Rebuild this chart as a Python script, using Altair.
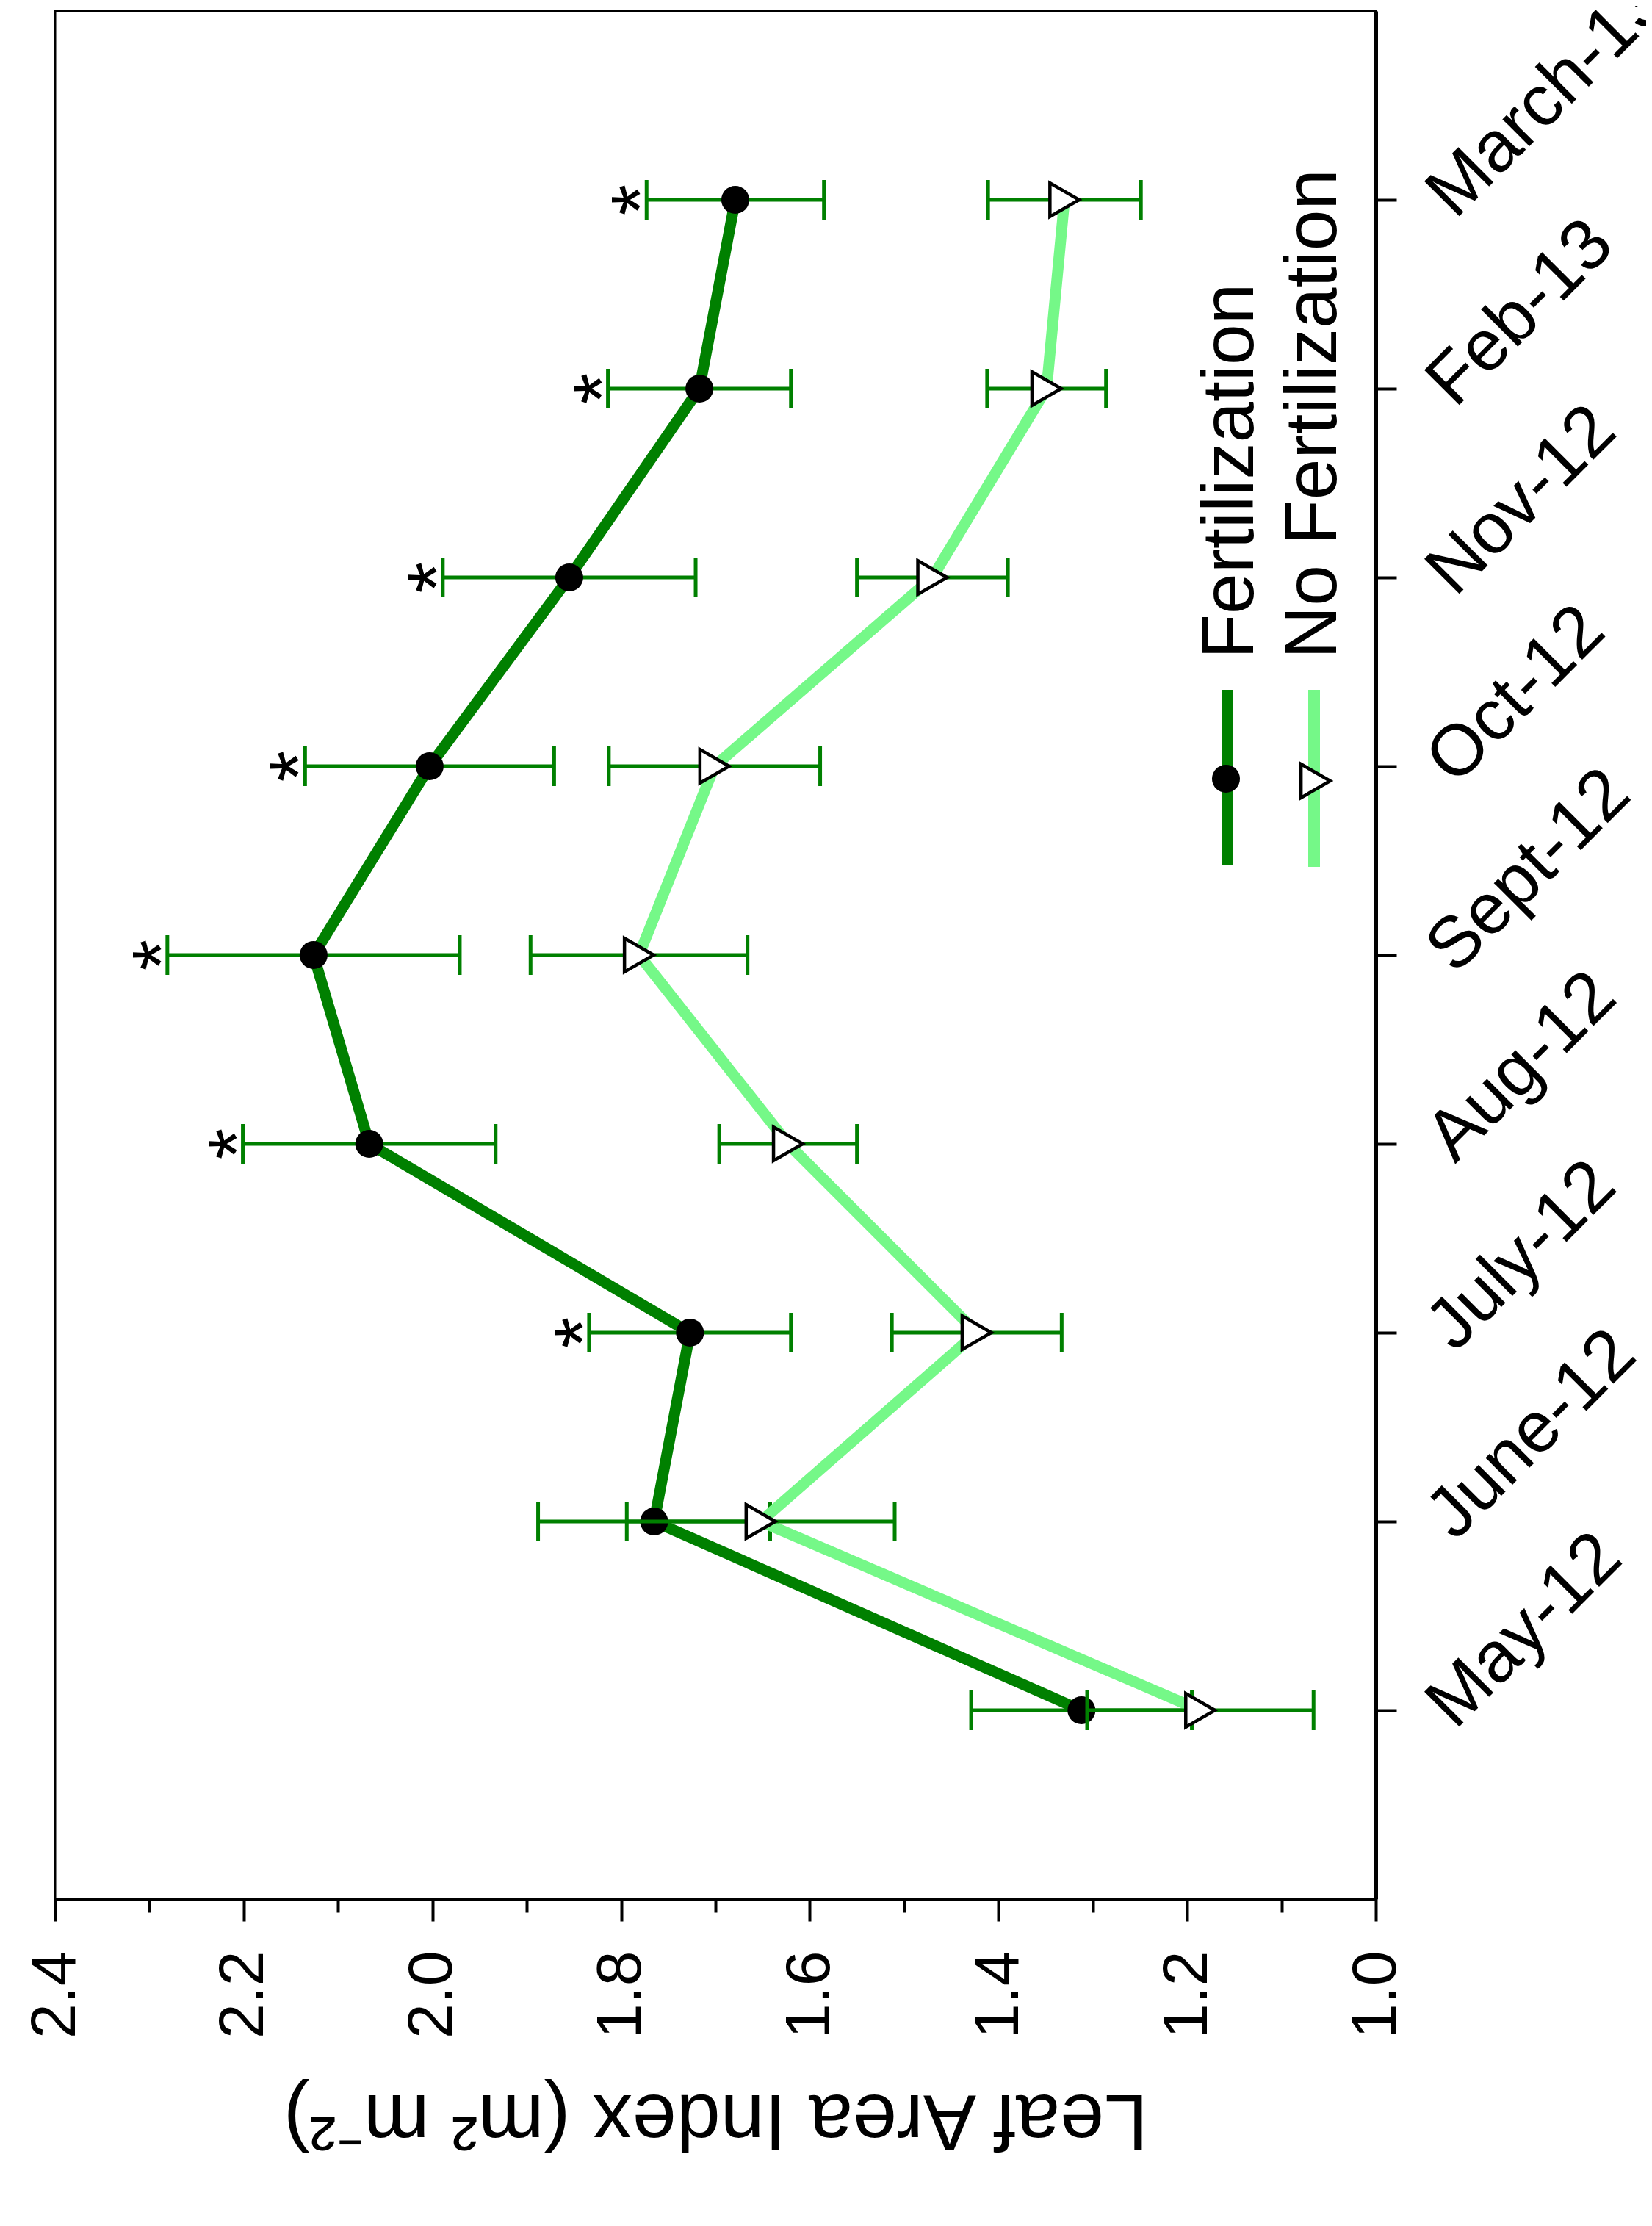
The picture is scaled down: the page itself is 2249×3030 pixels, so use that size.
import altair as alt
import pandas as pd

# ---------------- data ----------------
months = ["May-12", "June-12", "July-12", "Aug-12", "Sept-12",
          "Oct-12", "Nov-12", "Feb-13", "March-13"]
series_names = ["Fertilization", "No Fertilization"]
fert_mean = [1.312, 1.765, 1.727, 2.067, 2.126, 2.003, 1.855, 1.717, 1.679]
fert_err = [0.117, 0.123, 0.107, 0.134, 0.155, 0.132, 0.134, 0.097, 0.094]
nofert_mean = [1.186, 1.652, 1.423, 1.623, 1.781, 1.701, 1.470, 1.349, 1.330]
nofert_err = [0.120, 0.142, 0.090, 0.073, 0.115, 0.112, 0.080, 0.063, 0.081]
fert_sig = ["", "", "*", "*", "*", "*", "*", "*", "*"]
major_ticks = [1.0, 1.2, 1.4, 1.6, 1.8, 2.0, 2.2, 2.4]
minor_ticks = [1.1, 1.3, 1.5, 1.7, 1.9, 2.1, 2.3]
x_title = "Leaf Area Index (m² m⁻²)"

# ---------------- style ----------------
FONT = "Liberation Sans"
DARK = "#008000"
LIGHT = "#75F888"
ERR = "#008000"
W, H = 1798, 2570

df = pd.DataFrame({
    "month": months * 2,
    "idx": list(range(len(months))) * 2,
    "series": [series_names[0]] * len(months) + [series_names[1]] * len(months),
    "mean": fert_mean + nofert_mean,
    "err": fert_err + nofert_err,
    "star": fert_sig + [""] * len(months),
})

xscale = alt.Scale(domain=[1.0, 2.4], reverse=True, nice=False, zero=False)
yscale = alt.Scale(type="point", domain=list(reversed(months)), padding=1)

major_test = "round(datum.value*10) % 2 == 0"
xaxis = alt.Axis(
    orient="bottom",
    values=sorted(major_ticks + minor_ticks),
    labelExpr=f"({major_test}) ? format(datum.value, '.1f') : ''",
    tickSize={"condition": {"test": major_test, "value": 30}, "value": 18},
    tickWidth=4, domainWidth=5, grid=False,
    labelFontSize=86, labelAngle=270, labelAlign="right", labelBaseline="middle",
    labelPadding=40, labelFlush=False, labelOverlap=False, labelLimit=1000,
    titleFontSize=108, titleFontWeight="normal", titleAngle=180,
    titleAlign="center", titleBaseline="alphabetic", titleX=899, titleY=266,
    titleLimit=3000,
)
yaxis = alt.Axis(
    orient="right", tickSize=28, tickWidth=4, domainWidth=5, grid=False,
    labelFontSize=98, labelAngle=315, labelAlign="left", labelBaseline="middle",
    labelPadding=59, labelOffset=7, labelOverlap=False, labelLimit=1000,
    title=None,
)


def X(field):
    return alt.X(f"{field}:Q", scale=xscale, axis=xaxis, title=x_title)


Y = alt.Y("month:O", scale=yscale, axis=yaxis, title=None)

base = alt.Chart(df).transform_calculate(
    lower="datum.mean - datum.err", upper="datum.mean + datum.err"
)
bf = base.transform_filter(alt.datum.series == series_names[0])
bn = base.transform_filter(alt.datum.series == series_names[1])


def series_layers(b, color, point_mark):
    line = b.mark_line(color=color, strokeWidth=15).encode(
        x=X("mean"), y=Y, order=alt.Order("idx:Q"))
    rule = b.mark_rule(color=ERR, strokeWidth=5).encode(
        x=X("lower"), x2=alt.X2("upper:Q"), y=Y)
    caps = b.transform_fold(["lower", "upper"], as_=["bound", "bval"]).mark_tick(
        color=ERR, orient="vertical", size=54, thickness=5, opacity=1).encode(
        x=X("bval"), y=Y)
    pts = point_mark.encode(x=X("mean"), y=Y)
    return line, rule, caps, pts


lf, rf, cf, pf = series_layers(
    bf, DARK,
    bf.mark_point(shape="circle", filled=True, size=1450, color="black",
                  opacity=1, strokeWidth=0))
ln, rn, cn, pn = series_layers(
    bn, LIGHT,
    bn.mark_point(shape="triangle-right", filled=True, fill="white",
                  stroke="black", strokeWidth=4.5, size=2100, opacity=1))

stars = bf.transform_filter("datum.star != ''").mark_text(
    angle=270, fontSize=110, align="center", baseline="middle", dy=-5,
    font=FONT, color="black").encode(x=X("upper"), y=Y, text="star:N")

# ---------------- legend (drawn inside the plot) ----------------
one = alt.Chart(pd.DataFrame({"k": [0]}))
leg_line_f = one.mark_rule(color=DARK, strokeWidth=16).encode(
    x=alt.value(1596), y=alt.value(924), y2=alt.value(1163))
leg_line_n = one.mark_rule(color=LIGHT, strokeWidth=16).encode(
    x=alt.value(1714), y=alt.value(924), y2=alt.value(1165))
leg_pt_f = one.mark_point(shape="circle", filled=True, size=1450, color="black",
                          opacity=1, strokeWidth=0).encode(
    x=alt.value(1594), y=alt.value(1045))
leg_pt_n = one.mark_point(shape="triangle-right", filled=True, fill="white",
                          stroke="black", strokeWidth=4.5, size=2100,
                          opacity=1).encode(x=alt.value(1716), y=alt.value(1048))
leg_txt_f = one.mark_text(angle=270, fontSize=100, align="left",
                          baseline="alphabetic", font=FONT, color="black").encode(
    x=alt.value(1631), y=alt.value(882), text=alt.value(series_names[0]))
leg_txt_n = one.mark_text(angle=270, fontSize=100, align="left",
                          baseline="alphabetic", font=FONT, color="black").encode(
    x=alt.value(1744), y=alt.value(882), text=alt.value(series_names[1]))

chart = alt.layer(
    lf, rf, pf, cf, ln, rn, cn, pn, stars,
    leg_line_f, leg_line_n, leg_pt_f, leg_pt_n, leg_txt_f, leg_txt_n,
).properties(
    width=W, height=H,
    autosize=alt.AutoSizeParams(type="none"),
    padding={"left": 67, "top": 7, "right": 368, "bottom": 437},
).configure_view(
    stroke="black", strokeWidth=3
).configure_axis(
    grid=False, domainColor="black", tickColor="black",
    labelColor="black", titleColor="black", labelFont=FONT, titleFont=FONT,
)

chart.save("out.html", embed_options={"renderer": "svg", "actions": False})
